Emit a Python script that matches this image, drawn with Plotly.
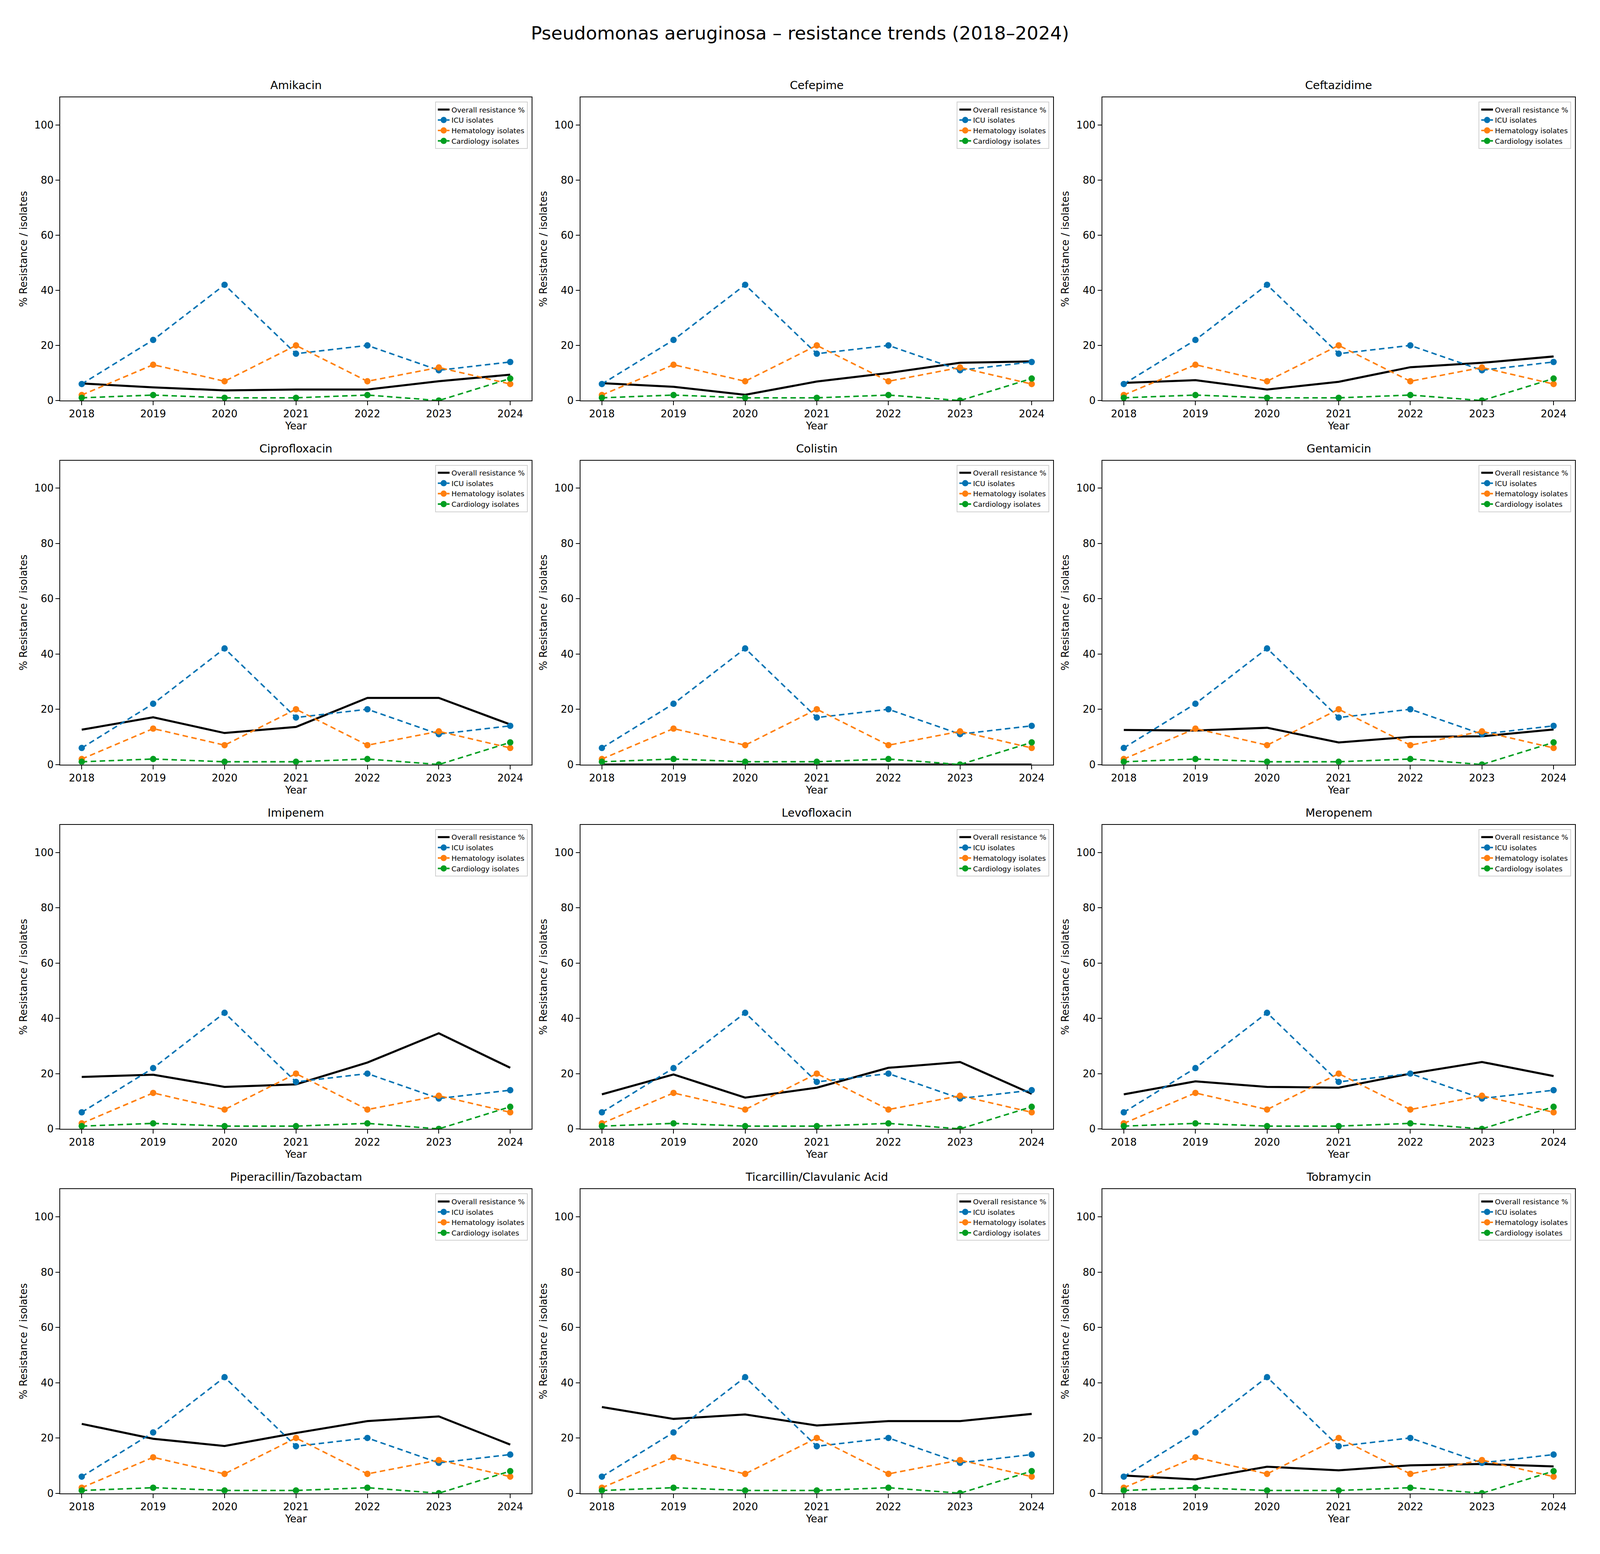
"""
Pseudomonas aeruginosa resistance trends, one small panel per antibiotic.
"""
import plotly.graph_objects as go

YEARS = [2018, 2019, 2020, 2021, 2022, 2023, 2024]

ANTIBIOTICS = ['Amikacin', 'Cefepime', 'Ceftazidime',
               'Ciprofloxacin', 'Colistin', 'Gentamicin',
               'Imipenem', 'Levofloxacin', 'Meropenem',
               'Piperacillin/Tazobactam', 'Ticarcillin/Clavulanic Acid', 'Tobramycin']

# isolate counts by ward (same for every antibiotic)
ICU = [6, 22, 42, 17, 20, 11, 14]
HEMATOLOGY = [2, 13, 7, 20, 7, 12, 6]
CARDIOLOGY = [1, 2, 1, 1, 2, 0, 8]

# overall resistance % per antibiotic
AMIKACIN = [6.2, 4.8, 3.7, 4.0, 4.0, 7.0, 9.4]
CEFEPIME = [6.3, 5.0, 2.1, 6.9, 10.0, 13.7, 14.2]
CEFTAZIDIME = [6.4, 7.4, 4.0, 6.8, 12.1, 13.7, 16.0]
CIPROFLOXACIN = [12.6, 17.1, 11.4, 13.6, 24.1, 24.1, 14.5]
COLISTIN = [0, 0, 0, 0, 0, 0, 0]
GENTAMICIN = [12.5, 12.3, 13.3, 8.0, 10.0, 10.2, 12.7]
IMIPENEM = [18.8, 19.6, 15.2, 16.1, 24.0, 34.6, 22.1]
LEVOFLOXACIN = [12.5, 19.7, 11.3, 14.9, 22.1, 24.2, 12.7]
MEROPENEM = [12.5, 17.2, 15.2, 14.9, 20.0, 24.2, 19.1]
PIP_TAZ = [25.1, 19.7, 17.1, 21.8, 26.1, 27.8, 17.6]
TIC_CLAV = [31.2, 26.9, 28.5, 24.5, 26.1, 26.1, 28.7]
TOBRAMYCIN = [6.4, 5.0, 9.6, 8.3, 10.1, 10.6, 9.7]

OVERALL = [AMIKACIN, CEFEPIME, CEFTAZIDIME, CIPROFLOXACIN, COLISTIN, GENTAMICIN,
           IMIPENEM, LEVOFLOXACIN, MEROPENEM, PIP_TAZ, TIC_CLAV, TOBRAMYCIN]

Y_TICKS = [0, 20, 40, 60, 80, 100]

# browser page is only 4096 wide (and body has its 8px margin),
# so positions are taken from the reference picture and rescaled
REF_W, REF_H = 4430, 3977
PAGE_W, PAGE_H = 4096, 3977
BODY = 8
W, H = PAGE_W - 2 * BODY, PAGE_H - 2 * BODY
SX, SY = PAGE_W / REF_W, PAGE_H / REF_H
F = 0.96
FONT = 'DejaVu Sans'
COL_PX = [(167, 1472), (1607, 2916), (3052, 4361)]
ROW_PX = [(250, 1029), (1183, 1964), (2119, 2900), (3055, 3836)]


def fx(v):
    return (v * SX - BODY) / W


def fy(v):
    return 1 - (v * SY - BODY) / H


WARDS = [('ICU isolates', ICU, '#0072B2'),
         ('Hematology isolates', HEMATOLOGY, '#FF7F0E'),
         ('Cardiology isolates', CARDIOLOGY, '#009E20')]

fig = go.Figure()
layout = {}
annotations = []

for i, name in enumerate(ANTIBIOTICS):
    r, c = divmod(i, 3)
    n = '' if i == 0 else str(i + 1)
    x0, x1 = fx(COL_PX[c][0]), fx(COL_PX[c][1])
    y0, y1 = fy(ROW_PX[r][1]), fy(ROW_PX[r][0])
    leg = 'legend' + n

    fig.add_trace(go.Scatter(
        x=YEARS, y=OVERALL[i], mode='lines', name='Overall resistance %',
        line=dict(color='black', width=5.5 * F),
        xaxis='x' + n, yaxis='y' + n, legend=leg))
    for label, vals, color in WARDS:
        fig.add_trace(go.Scatter(
            x=YEARS, y=vals, mode='lines+markers', name=label,
            line=dict(color=color, width=4 * F, dash='14px,9px'),
            marker=dict(color=color, size=17 * F),
            xaxis='x' + n, yaxis='y' + n, legend=leg))

    axis_common = dict(showline=True, linecolor='black', linewidth=2.2, mirror=True,
                       ticks='outside', ticklen=10, tickwidth=2.2, tickcolor='black',
                       showgrid=False, zeroline=False,
                       tickfont=dict(family=FONT, size=27 * F, color='black'))
    layout['xaxis' + n] = dict(
        domain=[x0, x1], anchor='y' + n, range=[2017.7, 2024.3],
        tickvals=YEARS, title=dict(text='Year', standoff=8,
                                   font=dict(family=FONT, size=27 * F, color='black')),
        **axis_common)
    layout['yaxis' + n] = dict(
        domain=[y0, y1], anchor='x' + n, range=[0, 110], tickvals=Y_TICKS,
        title=dict(text='% Resistance / isolates', standoff=11,
                   font=dict(family=FONT, size=27 * F, color='black')),
        **axis_common)
    layout[leg] = dict(
        x=x1 - 11 * SX / W, y=y1 - 11 / H, xanchor='right', yanchor='top',
        bgcolor='rgba(255,255,255,0.8)', bordercolor='#d0d0d0', borderwidth=2,
        font=dict(family=FONT, size=19 * F, color='black'), tracegroupgap=0)

    annotations.append(dict(
        text=name, x=(x0 + x1) / 2, y=y1, xref='paper', yref='paper',
        xanchor='center', yanchor='bottom', yshift=12, showarrow=False,
        font=dict(family=FONT, size=30 * F, color='black')))

annotations.append(dict(
    text='Pseudomonas aeruginosa – resistance trends (2018–2024)',
    x=0.5, y=fy(85), xref='paper', yref='paper', xanchor='center',
    yanchor='middle', showarrow=False, font=dict(family=FONT, size=49 * F, color='black')))

fig.update_layout(
    width=W, height=H, margin=dict(l=0, r=0, t=0, b=0),
    paper_bgcolor='white', plot_bgcolor='white',
    annotations=annotations, **layout)

fig.write_html("out.html")
